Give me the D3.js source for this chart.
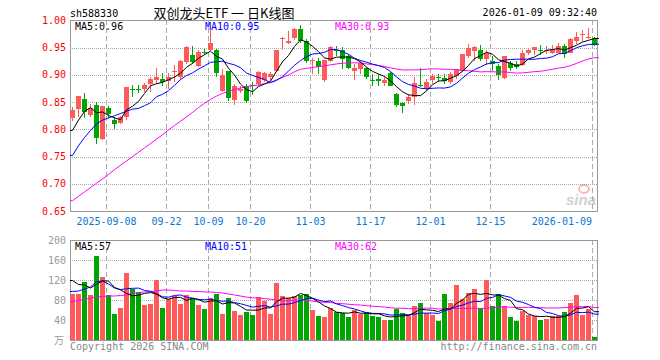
<!DOCTYPE html>
<html lang="zh">
<head>
<meta charset="UTF-8">
<title>双创龙头ETF 日K线图</title>
<script src="https://cdn.jsdelivr.net/npm/d3@7"></script>
<style>
    body { margin: 0; background: #fff; }
    text { font-family: "DejaVu Sans Mono", monospace; font-size: 10px; }
    .grid-h { stroke: #aaa; stroke-dasharray: 1,1; }
    .grid-v { stroke: #aaa; stroke-dasharray: 5,3; }
    .frame { fill: none; stroke: #999; }
</style>
</head>
<body>
<script>
const dates = [
    "2025-08-29",
    "2025-09-01","2025-09-02","2025-09-03","2025-09-04","2025-09-05",
    "2025-09-08","2025-09-09","2025-09-10","2025-09-11","2025-09-12",
    "2025-09-15","2025-09-16","2025-09-17","2025-09-18","2025-09-19",
    "2025-09-22","2025-09-23","2025-09-24","2025-09-25","2025-09-26",
    "2025-09-29","2025-09-30",
    "2025-10-09","2025-10-10",
    "2025-10-13","2025-10-14","2025-10-15","2025-10-16","2025-10-17",
    "2025-10-20","2025-10-21","2025-10-22","2025-10-23","2025-10-24",
    "2025-10-27","2025-10-28","2025-10-29","2025-10-30","2025-10-31",
    "2025-11-03","2025-11-04","2025-11-05","2025-11-06","2025-11-07",
    "2025-11-10","2025-11-11","2025-11-12","2025-11-13","2025-11-14",
    "2025-11-17","2025-11-18","2025-11-19","2025-11-20","2025-11-21",
    "2025-11-24","2025-11-25","2025-11-26","2025-11-27","2025-11-28",
    "2025-12-01","2025-12-02","2025-12-03","2025-12-04","2025-12-05",
    "2025-12-08","2025-12-09","2025-12-10","2025-12-11","2025-12-12",
    "2025-12-15","2025-12-16","2025-12-17","2025-12-18","2025-12-19",
    "2025-12-22","2025-12-23","2025-12-24","2025-12-25","2025-12-26",
    "2025-12-29","2025-12-30","2025-12-31",
    "2026-01-05","2026-01-06","2026-01-07","2026-01-08","2026-01-09"
];

const open = [
    0.821,0.837,0.856,0.826,0.845,0.782,0.840,0.818,0.812,0.822,
    0.875,0.875,0.874,0.883,0.891,0.892,0.888,0.907,0.896,0.923,
    0.937,0.917,0.943,0.946,0.946,0.871,0.907,0.854,0.871,0.880,
    0.881,0.883,0.891,0.896,0.907,0.966,0.958,0.967,0.984,0.962,
    0.926,0.926,0.890,0.926,0.945,0.946,0.934,0.907,0.910,0.912,
    0.891,0.893,0.885,0.903,0.865,0.848,0.852,0.859,0.882,0.874,
    0.891,0.896,0.894,0.887,0.898,0.908,0.934,0.944,0.946,0.929,
    0.926,0.917,0.894,0.922,0.920,0.918,0.940,0.946,0.946,0.944,
    0.941,0.941,0.954,0.941,0.963,0.973,0.967,0.967
];
const high = [
    0.841,0.861,0.866,0.846,0.850,0.842,0.842,0.823,0.824,0.877,
    0.882,0.882,0.885,0.896,0.913,0.903,0.903,0.918,0.927,0.953,
    0.953,0.945,0.948,0.982,0.947,0.911,0.907,0.883,0.879,0.883,
    0.887,0.907,0.905,0.905,0.946,0.969,0.980,0.986,0.991,0.966,
    0.932,0.932,0.928,0.954,0.954,0.952,0.938,0.920,0.923,0.914,
    0.901,0.902,0.896,0.905,0.866,0.850,0.865,0.896,0.912,0.893,
    0.901,0.902,0.902,0.905,0.911,0.939,0.956,0.954,0.955,0.945,
    0.935,0.920,0.934,0.926,0.926,0.945,0.948,0.952,0.955,0.954,
    0.955,0.958,0.957,0.968,0.978,0.982,0.987,0.969
];
const low = [
    0.815,0.823,0.820,0.822,0.774,0.780,0.820,0.801,0.809,0.818,
    0.859,0.866,0.868,0.868,0.883,0.879,0.874,0.887,0.893,0.920,
    0.920,0.915,0.937,0.944,0.897,0.868,0.853,0.845,0.866,0.849,
    0.864,0.880,0.887,0.888,0.905,0.945,0.957,0.965,0.958,0.922,
    0.902,0.902,0.887,0.923,0.935,0.911,0.911,0.891,0.902,0.893,
    0.880,0.880,0.880,0.879,0.841,0.830,0.846,0.844,0.877,0.870,
    0.884,0.887,0.884,0.884,0.893,0.905,0.931,0.926,0.926,0.918,
    0.907,0.890,0.892,0.907,0.911,0.917,0.936,0.936,0.937,0.938,
    0.938,0.940,0.931,0.940,0.957,0.963,0.966,0.953
];
const close = [
    0.835,0.861,0.832,0.840,0.785,0.842,0.829,0.810,0.822,0.877,
    0.874,0.874,0.882,0.893,0.896,0.887,0.897,0.908,0.926,0.952,
    0.923,0.943,0.942,0.958,0.904,0.899,0.858,0.880,0.875,0.853,
    0.880,0.905,0.903,0.901,0.945,0.967,0.963,0.985,0.962,0.926,
    0.927,0.914,0.927,0.951,0.944,0.929,0.913,0.913,0.921,0.896,
    0.890,0.888,0.891,0.880,0.844,0.842,0.860,0.885,0.879,0.887,
    0.898,0.895,0.888,0.902,0.910,0.938,0.949,0.951,0.929,0.941,
    0.920,0.899,0.934,0.913,0.915,0.940,0.945,0.951,0.945,0.946,
    0.946,0.954,0.938,0.966,0.969,0.975,0.970,0.955
];
// 成交量（万）
const volume = [
    92,92,116,90,168,126,90,52,64,134,
    102,96,70,72,120,64,82,88,72,90,
    84,70,62,84,92,52,84,58,50,56,
    50,86,78,52,115,88,85,88,90,93,
    61,49,47,65,56,54,46,60,52,56,
    48,46,40,40,62,54,50,68,75,54,
    50,38,93,75,111,83,95,103,64,121,
    68,93,68,46,38,58,50,48,40,42,
    48,48,56,75,90,50,62,6
];

// MA values at the left edge (window not complete)
const ma5Head = [0.798,0.817,0.833,0.840];
const ma10Head = [0.752,0.770,0.785,0.798,0.810,0.817,0.821,0.825,0.829];
const ma30Head = [
    0.669,0.677,0.685,0.693,0.701,0.709,0.717,0.726,0.734,0.742,
    0.750,0.758,0.766,0.774,0.782,0.790,0.799,0.807,0.815,0.823,
    0.831,0.840,0.848,0.855,0.861,0.866,0.870,0.873,0.876
];
const vma5Head = [119,111,110,104];
const vma10Head = [97,98,102,106,117,118,112,104,101];
const vma30Head = [
    77,79,81,84,86,87,88,88,89,90,
    93,95,96,97,98,100,100,99,98,98,
    97,97,96,96,95,94,92,90,88
];

const priceTicks = [0.65,0.70,0.75,0.80,0.85,0.90,0.95,1.00];
const volTicks = [40,80,120,160,200];
const tickDates = ["2025-09-08","2025-09-22","2025-10-09","2025-10-20","2025-11-03",
                   "2025-11-17","2025-12-01","2025-12-15","2026-01-09"];
const priceMaLabels = ["MA5:0.96","MA10:0.95","MA30:0.93"];
const volMaLabels = ["MA5:57","MA10:51","MA30:62"];
const maColors = ["#000","#0000ff","#ff00ff"];

const width = 660, height = 360;
const left = 70, right = 597;
const RED = "#ff5959", GREEN = "#00a600";

const svg = d3.select("body").append("svg")
    .attr("width", width)
    .attr("height", height);

const x = d3.scaleBand().domain(dates).range([left, right]).paddingInner(1 / 6).paddingOuter(0);
const xc = d => x(d) + x.bandwidth() / 2;
const y = d3.scaleLinear().domain([0.65, 1.00]).range([211, 20.5]);
const yv = d3.scaleLinear().domain([0, 200]).range([340, 240]);

function movingAvg(vals, n, head) {
    return vals.map((v, i) => i < head.length ? head[i] : d3.mean(vals.slice(i - n + 1, i + 1)));
}

// header texts
svg.append("text").attr("x", left).attr("y", 16.5).text("sh588330");
svg.append("text").attr("x", 224).attr("y", 17.5).attr("text-anchor", "middle")
    .style("font-family", "'Noto Sans CJK SC', sans-serif").style("font-size", "13px")
    .text("双创龙头ETF 一 日K线图");
svg.append("text").attr("x", right).attr("y", 16).attr("text-anchor", "end")
    .text("2026-01-09 09:32:40");

function panel(yScale, ticks, top, bottom) {
    const g = svg.append("g");
    g.selectAll(".grid-h").data(ticks.filter(t => yScale(t) > top + 1 && yScale(t) < bottom - 1))
        .enter().append("line").attr("class", "grid-h")
        .attr("x1", left).attr("x2", right)
        .attr("y1", d => Math.round(yScale(d)) + 0.5).attr("y2", d => Math.round(yScale(d)) + 0.5);
    g.selectAll(".grid-v").data(tickDates)
        .enter().append("line").attr("class", "grid-v")
        .attr("x1", d => x(d) + 0.5).attr("x2", d => x(d) + 0.5)
        .attr("y1", top).attr("y2", bottom);
    g.append("rect").attr("class", "frame")
        .attr("x", left + 0.5).attr("y", top + 0.5)
        .attr("width", right - left).attr("height", bottom - top);
    return g;
}

panel(y, priceTicks, 20, 211);
panel(yv, volTicks, 240, 340);

// y labels
svg.append("g").selectAll("text").data(priceTicks).enter().append("text")
    .attr("x", 66).attr("y", d => y(d) + 3.5).attr("text-anchor", "end")
    .attr("fill", "#ff0000").text(d => d.toFixed(2));
svg.append("g").selectAll("text").data(volTicks).enter().append("text")
    .attr("x", 66).attr("y", d => yv(d) + 3.5).attr("text-anchor", "end")
    .attr("fill", "#999").text(d => d);
svg.append("text").attr("x", 64).attr("y", 344).attr("text-anchor", "end")
    .attr("fill", "#999").style("font-family", "'Noto Sans CJK SC', sans-serif").text("万");

// x labels
svg.append("g").selectAll("text").data(tickDates).enter().append("text")
    .attr("x", (d, i) => i === tickDates.length - 1 ? x(d) : x(d) + 0.5)
    .attr("y", 224.5)
    .attr("text-anchor", (d, i) => i === tickDates.length - 1 ? "end" : "middle")
    .attr("fill", "#0a78d2")
    .text((d, i) => (i === 0 || i === tickDates.length - 1) ? d : d.slice(5));

// watermark
const wm = svg.append("g").attr("opacity", 0.55);
wm.append("ellipse").attr("cx", 584).attr("cy", 189).attr("rx", 5).attr("ry", 4)
    .attr("fill", "none").attr("stroke", "#f08080").attr("stroke-width", 2);
wm.append("text").attr("x", 566).attr("y", 205)
    .style("font-family", "'Liberation Sans', sans-serif").style("font-size", "15px")
    .style("font-style", "italic").style("font-weight", "bold")
    .attr("fill", "#aaa").text("sina");

// candles
const candles = svg.append("g").attr("shape-rendering", "crispEdges")
    .selectAll("g").data(dates).enter().append("g");
candles.append("line")
    .attr("x1", d => Math.floor(xc(d)) + 0.5).attr("x2", d => Math.floor(xc(d)) + 0.5)
    .attr("y1", (d, i) => y(high[i])).attr("y2", (d, i) => y(low[i]))
    .attr("stroke", (d, i) => close[i] >= open[i] ? RED : GREEN);
candles.append("rect")
    .attr("x", d => x(d)).attr("width", x.bandwidth())
    .attr("y", (d, i) => y(Math.max(open[i], close[i])))
    .attr("height", (d, i) => Math.max(1, Math.abs(y(open[i]) - y(close[i]))))
    .attr("fill", (d, i) => close[i] >= open[i] ? RED : GREEN);

// volume bars
svg.append("g").attr("shape-rendering", "crispEdges")
    .selectAll("rect").data(dates).enter().append("rect")
    .attr("x", d => x(d)).attr("width", x.bandwidth())
    .attr("y", (d, i) => yv(volume[i]))
    .attr("height", (d, i) => yv(0) - yv(volume[i]))
    .attr("fill", (d, i) => close[i] >= open[i] ? RED : GREEN);

// moving average lines
function drawMA(values, scale, color) {
    const pts = values.map((v, i) => [xc(dates[i]), scale(v)]);
    pts.unshift([left, scale(values[0])]);
    pts.push([right + 2, scale(values[values.length - 1])]);
    svg.append("path").datum(pts)
        .attr("d", d3.line())
        .attr("fill", "none").attr("stroke", color).attr("stroke-width", 1);
}
drawMA(movingAvg(close, 30, ma30Head), y, maColors[2]);
drawMA(movingAvg(close, 10, ma10Head), y, maColors[1]);
drawMA(movingAvg(close, 5, ma5Head), y, maColors[0]);
drawMA(movingAvg(volume, 30, vma30Head), yv, maColors[2]);
drawMA(movingAvg(volume, 10, vma10Head), yv, maColors[1]);
drawMA(movingAvg(volume, 5, vma5Head), yv, maColors[0]);

// MA legends
const legendX = [75, 205, 335];
svg.append("g").selectAll("text").data(priceMaLabels).enter().append("text")
    .attr("x", (d, i) => legendX[i]).attr("y", 29.5)
    .attr("fill", (d, i) => maColors[i]).text(d => d);
svg.append("g").selectAll("text").data(volMaLabels).enter().append("text")
    .attr("x", (d, i) => legendX[i]).attr("y", 249.5)
    .attr("fill", (d, i) => maColors[i]).text(d => d);

// footer
svg.append("text").attr("x", left).attr("y", 350).attr("fill", "#888").text("Copyright 2026 SINA.COM");
svg.append("text").attr("x", right).attr("y", 350).attr("text-anchor", "end")
    .attr("fill", "#888").text("http://finance.sina.com.cn");
</script>
</body>
</html>
